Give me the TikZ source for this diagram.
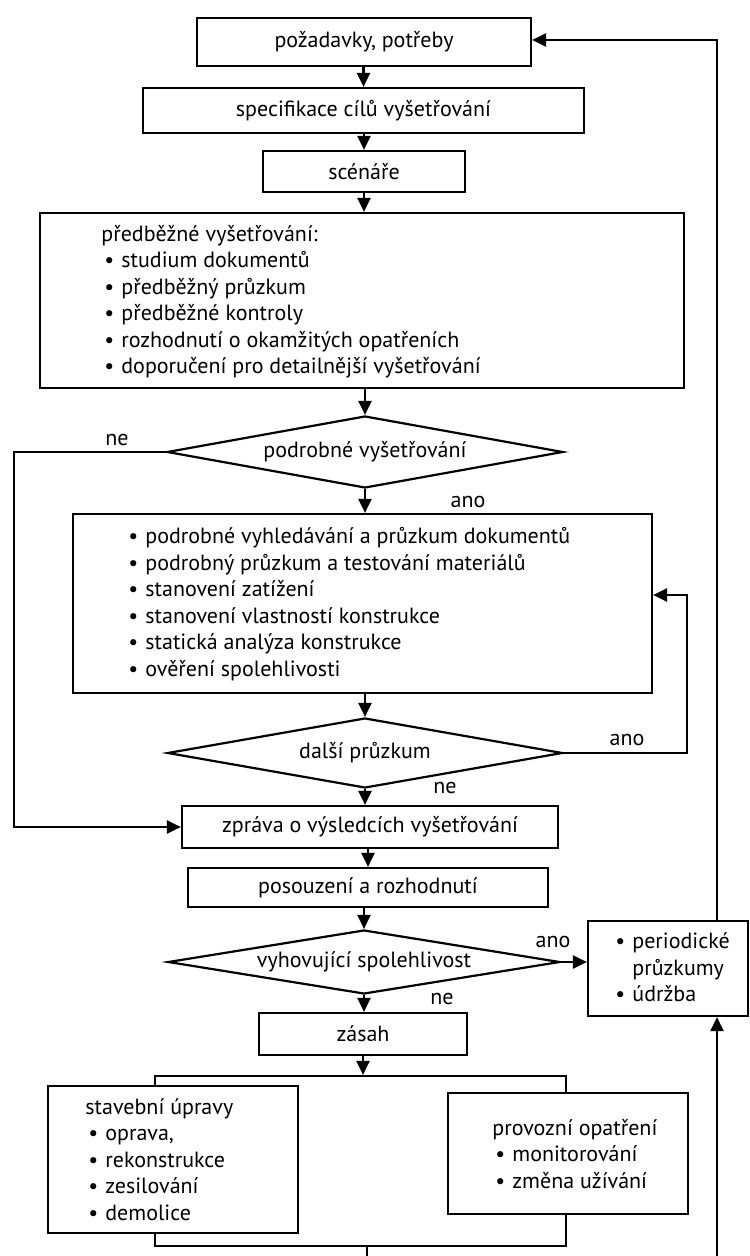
\documentclass[tikz,border=0pt]{standalone}
\usepackage{fontspec}
\setmainfont{PT Sans}
\usetikzlibrary{arrows.meta,shapes.geometric}
\newcommand\bul{\hspace*{1.5pt}\makebox[8.5pt][l]{•}}
\begin{document}
\begin{tikzpicture}[x=0.5pt,y=-0.5pt,
  every node/.style={font=\fontsize{11}{13.25}\selectfont},
  box/.style={draw,line width=1.1pt,inner sep=0pt,fill=white},
  dia/.style={draw,line width=1.1pt,shape=diamond,aspect=5,inner sep=0pt},
  txt/.style={align=left,anchor=west,inner sep=0pt},
  lbl/.style={inner sep=0pt},
  conn/.style={line width=1.1pt},
  arrw/.style={line width=1.1pt,-{Triangle[length=7pt,width=6.5pt]}},
]
\useasboundingbox (0,0) rectangle (749,1256);
% main column
\node[box,minimum width=167pt,minimum height=24pt] (b1) at (364,42) {požadavky, potřeby};
\node[box,minimum width=220.5pt,minimum height=22.5pt] (b2) at (363.5,110.5) {specifikace cílů vyšetřování};
\node[box,minimum width=101pt,minimum height=20.5pt] (b3) at (364,171.5) {scénáře};
\node[box,minimum width=322pt,minimum height=87.5pt] (b4) at (362,300.5) {};
\node[txt] (b4t) at (101,302) {předběžné vyšetřování:\\\bul studium dokumentů\\\bul předběžný průzkum\\\bul předběžné kontroly\\\bul rozhodnutí o okamžitých opatřeních\\\bul doporučení pro detailnější vyšetřování};
\node[dia,minimum width=198pt,minimum height=36pt] (d1) at (365,452) {podrobné vyšetřování};
\node[box,minimum width=289.5pt,minimum height=89.5pt] (b5) at (362.5,603.5) {};
\node[txt] (b5t) at (125,604) {\bul podrobné vyhledávání a průzkum dokumentů\\\bul podrobný průzkum a testování materiálů\\\bul stanovení zatížení\\\bul stanovení vlastností konstrukce\\\bul statická analýza konstrukce\\\bul ověření spolehlivosti};
\node[dia,minimum width=197.5pt,minimum height=35pt] (d2) at (365,753) {další průzkum};
\node[box,minimum width=188pt,minimum height=21pt] (zp) at (370,827) {zpráva o výsledcích vyšetřování};
\node[box,minimum width=180pt,minimum height=19.5pt] (po) at (368,887.5) {posouzení a rozhodnutí};
\node[dia,minimum width=196pt,minimum height=32pt] (d3) at (364,962) {vyhovující spolehlivost};
\node[box,minimum width=104pt,minimum height=21pt] (za) at (363,1034) {zásah};
% side box
\node[box,minimum width=80pt,minimum height=47.5pt] (pe) at (668,968.5) {};
\node[txt] (pet) at (612,967.5) {\bul periodické\\\hspace*{10pt}průzkumy\\\bul údržba};
% bottom group
\node[draw,line width=1.1pt,inner sep=0pt,minimum width=205.5pt,minimum height=85pt] (br) at (360.5,1161) {};
\node[box,minimum width=125pt,minimum height=73.5pt] (st) at (173,1159.5) {};
\node[txt] (stt) at (85,1159.5) {stavební úpravy\\\bul oprava,\\\bul rekonstrukce\\\bul zesilování\\\bul demolice};
\node[box,minimum width=120pt,minimum height=60.5pt] (pr) at (568,1153.5) {};
\node[txt] (prt) at (492,1154) {provozní opatření\\\bul monitorování\\\bul změna užívání};
% labels
\node[lbl] (l1) at (117,440) {ne};
\node[lbl] (l2) at (468,502) {ano};
\node[lbl] (l3) at (627,740) {ano};
\node[lbl] (l4) at (445,788) {ne};
\node[lbl] (l5) at (553,942) {ano};
\node[lbl] (l6) at (442,999) {ne};
% connectors
\draw[arrw] (b2.north |- b1.south) -- (b2.north);
\draw[arrw] (b3.north |- b2.south) -- (b3.north);
\draw[arrw] (b3.south) -- (b3.south |- b4.north);
\draw[arrw] (d1.north |- b4.south) -- (d1.north);
\draw[arrw] (d1.south) -- (d1.south |- b5.north);
\draw[arrw] (d2.north |- b5.south) -- (d2.north);
\draw[arrw] (d2.south) -- (d2.south |- zp.north);
\draw[arrw] (po.north |- zp.south) -- (po.north);
\draw[arrw] (d3.north |- po.south) -- (d3.north);
\draw[arrw] (d3.south) -- (d3.south |- za.north);
\draw[arrw] (za.south) -- (za.south |- br.north);
\coordinate (L) at (14,0);
\draw[arrw] (d1.west) -- (L |- d1.west) -- (L |- zp.west) -- (zp.west);
\coordinate (F) at (687,595);
\draw[arrw] (d2.east) -- (F |- d2.east) -- (F) -- (F -| b5.east);
\draw[arrw] (d3.east) -- (d3.east -| pe.west);
\coordinate (R) at (717,40);
\draw[arrw] (R |- pe.north) -- (R) -- (R -| b1.east);
\coordinate (B1) at (367,1262);
\draw[conn] (B1 |- br.south) -- (B1);
\coordinate (B2) at (717,1262);
\draw[arrw] (B2) -- (B2 |- pe.south);
\end{tikzpicture}
\end{document}
